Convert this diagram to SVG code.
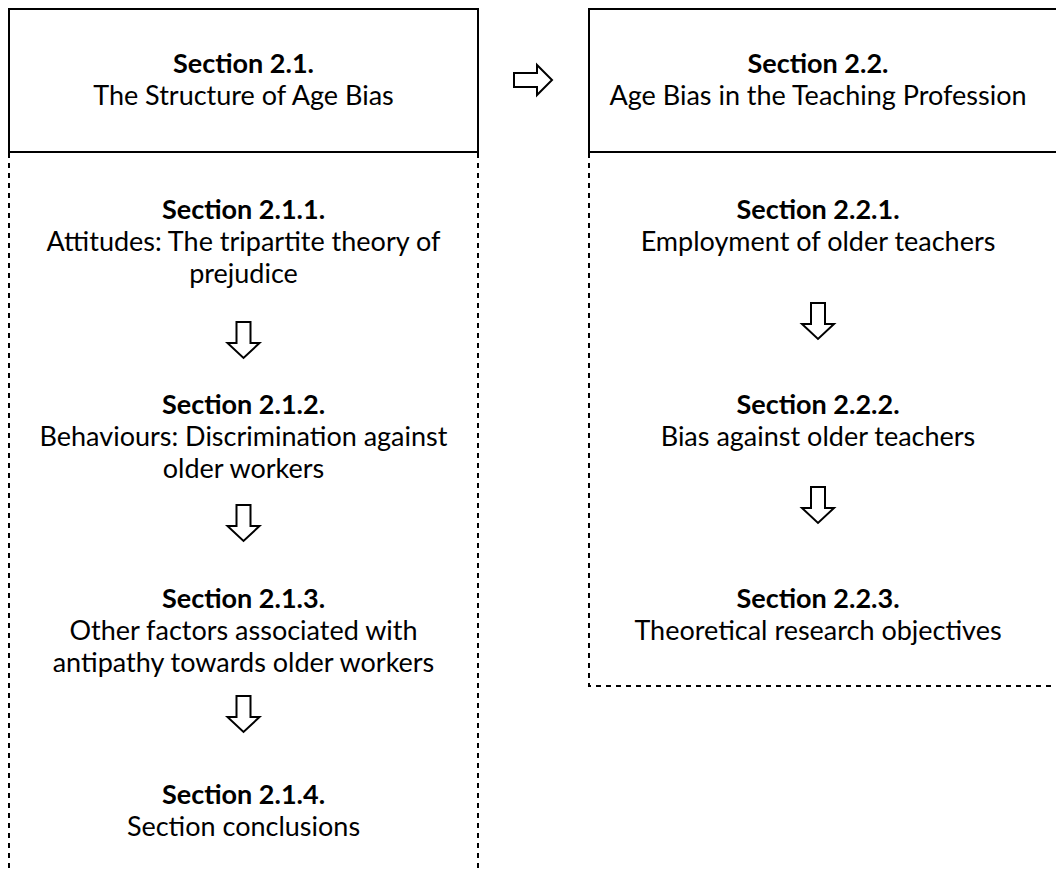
<svg xmlns="http://www.w3.org/2000/svg" width="1056" height="872" viewBox="0 0 1056 872">
  <style>
    .box { fill: #ffffff; stroke: #000000; stroke-width: 2; }
    .dash { fill: none; stroke: #000000; stroke-width: 2; stroke-dasharray: 5 5; }
    .arrow { fill: #ffffff; stroke: #000000; stroke-width: 2; stroke-linejoin: miter; }
    text { font-family: Lato, "Open Sans", "Liberation Sans", sans-serif; font-size: 27px; fill: #000000; text-anchor: middle; }
    .b { font-weight: bold; }
  </style>
  <defs>
    <!-- hollow block arrow pointing down, origin at top centre -->
    <path id="down" d="M -7 0 L 7 0 L 7 21 L 16 21 L 0 36 L -16 21 L -7 21 Z"/>
  </defs>
  <rect width="1056" height="872" fill="#ffffff"/>

  <!-- left column: Section 2.1 -->
  <g id="sec-2-1">
    <rect class="box" x="9" y="9" width="469" height="143"/>
    <text class="b" x="243.5" y="73">Section 2.1.</text>
    <text x="243.5" y="105">The Structure of Age Bias</text>
  </g>
  <g id="sec-2-1-frame">
    <path class="dash" d="M 9 153 L 9 872 M 478 153 L 478 872"/>
  </g>
  <g id="sec-2-1-1">
    <text class="b" x="243.5" y="219">Section 2.1.1.</text>
    <text x="243.5" y="251">Attitudes: The tripartite theory of</text>
    <text x="243.5" y="283">prejudice</text>
  </g>
  <g id="sec-2-1-2">
    <text class="b" x="243.5" y="414">Section 2.1.2.</text>
    <text x="243.5" y="446">Behaviours: Discrimination against</text>
    <text x="243.5" y="478">older workers</text>
  </g>
  <g id="sec-2-1-3">
    <text class="b" x="243.5" y="608">Section 2.1.3.</text>
    <text x="243.5" y="640">Other factors associated with</text>
    <text x="243.5" y="672">antipathy towards older workers</text>
  </g>
  <g id="sec-2-1-4">
    <text class="b" x="243.5" y="804">Section 2.1.4.</text>
    <text x="243.5" y="836">Section conclusions</text>
  </g>

  <!-- right column: Section 2.2 -->
  <g id="sec-2-2">
    <rect class="box" x="589" y="9" width="480" height="143"/>
    <text class="b" x="818" y="73">Section 2.2.</text>
    <text x="818" y="105">Age Bias in the Teaching Profession</text>
  </g>
  <g id="sec-2-2-frame">
    <path class="dash" d="M 589 153 L 589 686 L 1056 686"/>
  </g>
  <g id="sec-2-2-1">
    <text class="b" x="818" y="219">Section 2.2.1.</text>
    <text x="818" y="251">Employment of older teachers</text>
  </g>
  <g id="sec-2-2-2">
    <text class="b" x="818" y="414">Section 2.2.2.</text>
    <text x="818" y="446">Bias against older teachers</text>
  </g>
  <g id="sec-2-2-3">
    <text class="b" x="818" y="608">Section 2.2.3.</text>
    <text x="818" y="640">Theoretical research objectives</text>
  </g>

  <!-- connectors -->
  <g id="connectors">
    <path class="arrow" d="M 514 73 L 537 73 L 537 65 L 552 80 L 537 95 L 537 87 L 514 87 Z"/>
    <use href="#down" class="arrow" x="243.5" y="322"/>
    <use href="#down" class="arrow" x="243.5" y="505"/>
    <use href="#down" class="arrow" x="243.5" y="696"/>
    <use href="#down" class="arrow" x="818" y="303"/>
    <use href="#down" class="arrow" x="818" y="487"/>
  </g>
</svg>
